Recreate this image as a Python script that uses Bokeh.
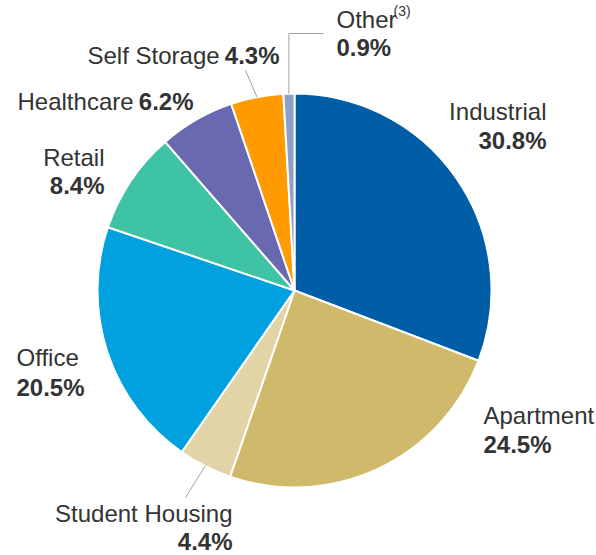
import math
from bokeh.plotting import figure
from bokeh.models import Range1d, ColumnDataSource
from bokeh.core.properties import value
from bokeh.embed import file_html
from bokeh.resources import INLINE

# ---- data ----
categories = ["Industrial", "Apartment", "Student Housing", "Office",
              "Retail", "Healthcare", "Self Storage", "Other"]
shares = [30.8, 24.5, 4.4, 20.5, 8.4, 6.2, 4.3, 0.9]
value_labels = ["30.8%", "24.5%", "4.4%", "20.5%", "8.4%", "6.2%", "4.3%", "0.9%"]
colors = ["#005DA6", "#CFB96A", "#E2D4A6", "#00A1DE",
          "#3EC3A4", "#6969B2", "#FF9A00", "#8DA0C8"]

# ---- layout (page pixel coordinates, y measured from the top) ----
W, H = 596, 555
PAGE_H = 555
CX, CY, R = 294, 290, 197
TEXT_SHIFT = 8  # baseline correction for text rendering

def Y(py):
    return PAGE_H - py

p = figure(width=W, height=H, output_backend="svg", toolbar_location=None,
           x_range=Range1d(0, W), y_range=Range1d(0, H),
           min_border=0)
p.axis.visible = False
p.grid.visible = False
p.outline_line_color = None
p.background_fill_color = "white"

total = sum(shares)
starts, ends, mids = [], [], []
cum = 0.0
for s in shares:
    a0 = math.pi / 2 - 2 * math.pi * cum / total
    cum += s
    a1 = math.pi / 2 - 2 * math.pi * cum / total
    starts.append(a0)
    ends.append(a1)
    mids.append((a0 + a1) / 2)

src = ColumnDataSource(dict(start=starts, end=ends, color=colors, cat=categories))
p.wedge(x=CX, y=Y(CY), radius=R, start_angle="start", end_angle="end",
        direction="clock", fill_color="color", line_color="white", line_width=2,
        source=src)

FONT = value("Liberation Sans")
TXT = "#333333"
FS = "24px"

def txt(x, py, s, align="left", bold=False, size=FS):
    p.text(x=[x], y=[Y(py - TEXT_SHIFT)], text=[s], text_font=FONT, text_font_size=size,
           text_color=TXT, text_align=align, text_baseline="alphabetic",
           text_font_style="bold" if bold else "normal")

# leader lines: start at slice edge at mid-angle
def leader(i, pts):
    a = mids[i]
    x0 = CX + R * math.cos(a)
    y0 = CY - R * math.sin(a)
    xs = [x0] + [q[0] for q in pts]
    ys = [Y(y0)] + [Y(q[1]) for q in pts]
    p.line(xs, ys, line_color="#A0A0A0", line_width=1)

ox = CX + R * math.cos(mids[7])
leader(7, [(ox, 33), (323, 33)])
leader(6, [(245, 70)])
leader(2, [(185, 497)])

# Industrial (right aligned)
txt(546, 119, categories[0], "right")
txt(546, 148, value_labels[0], "right", True)
# Apartment
txt(483, 423, categories[1])
txt(483, 452, value_labels[1], bold=True)
# Student Housing (right aligned)
txt(232, 521, categories[2], "right")
txt(232, 549, value_labels[2], "right", True)
# Office
txt(16, 365, categories[3])
txt(16, 395, value_labels[3], bold=True)
# Retail (right aligned)
txt(104, 165, categories[4], "right")
txt(104, 193, value_labels[4], "right", True)
# Healthcare (single line)
txt(17, 109, categories[5])
txt(193, 109, value_labels[5], "right", True)
# Self Storage (single line)
txt(87, 63, categories[6])
txt(279, 63, value_labels[6], "right", True)
# Other with superscript
txt(336, 27, categories[7])
txt(393, 18, "(3)", size="14px")
txt(336, 55, value_labels[7], bold=True)

open("out.html", "w").write(file_html(p, INLINE))
